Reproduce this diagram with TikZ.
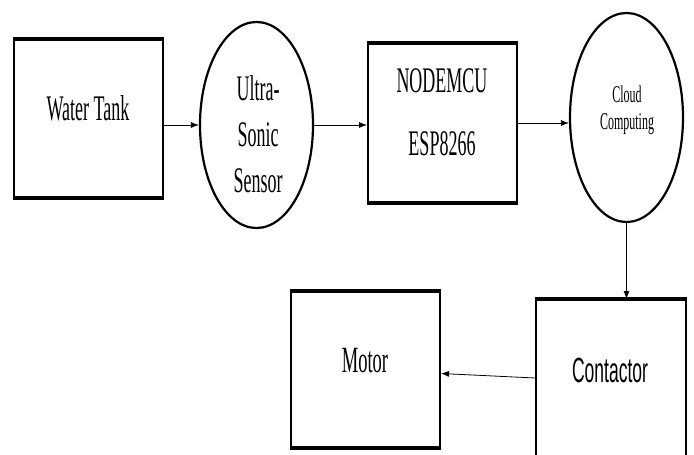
\documentclass[tikz,border=0pt]{standalone}
\usepackage{fontspec}
\newfontfamily\tallserif[FakeStretch=0.5]{Liberation Serif}
\newfontfamily\tallsans[FakeStretch=0.5]{Liberation Sans}
\usetikzlibrary{arrows.meta,shapes.geometric}

\tikzset{
  block/.style={draw,line width=2pt,minimum width=149pt,minimum height=157pt,inner sep=0pt},
  sensor/.style={draw,ellipse,line width=2.2pt,minimum width=113pt,minimum height=206pt,inner sep=0pt},
  link/.style={-{Latex[length=8pt,width=6pt]},line width=0.8pt},
  lbl/.style={inner sep=0pt,align=center,font=\tallserif\fontsize{36}{46}\selectfont}
}

\begin{document}
\begin{tikzpicture}[x=1pt,y=-1pt]
  \useasboundingbox (0,0) rectangle (694,455);

  % blocks
  \node[block] (tank) at (88.5,118.5) {};
  \node[sensor] (sensor) at (256.5,125) {};
  \node[block,minimum height=158pt] (mcu) at (442.5,123) {};
  \node[sensor,minimum height=209pt] (cloud) at (626.5,117.5) {};
  \node[block,minimum width=150pt,minimum height=200pt] (contactor) at (611,400) {};
  \node[block,minimum height=155pt] (motor) at (365.5,369.5) {};

  % heavy top and bottom edges
  \foreach \b in {tank,mcu,contactor,motor}
    \draw[line width=4pt] (\b.north west) -- (\b.north east) (\b.south west) -- (\b.south east);

  % texts
  \node[lbl,anchor=base] (tanktxt) at (88,120) {Water Tank};
  \node[lbl] (sensortxt) at (258,134) {Ultra-\\Sonic\\Sensor};
  \node[lbl,anchor=base] (mcutxt) at (442,92) {NODEMCU};
  \node[lbl,anchor=base] (esptxt) at (442,155) {ESP8266};
  \node[lbl,anchor=base,font=\tallserif\fontsize{24}{28}\selectfont] (cloudtxt) at (627,102) {Cloud};
  \node[lbl,anchor=base,font=\tallserif\fontsize{24}{28}\selectfont] (comptxt) at (627,129) {Computing};
  \node[lbl,anchor=base,font=\tallsans\fontsize{35}{40}\selectfont] (contxt) at (610,382) {Contactor};
  \node[lbl,anchor=base,font=\tallserif\fontsize{37}{40}\selectfont] (motortxt) at (365,372) {Motor};

  % connectors
  \draw[link] (tank.east |- sensor.west) -- (sensor.west);
  \draw[link] (sensor.east) -- (mcu.west |- sensor.east);
  \draw[link] (mcu.east) -- (cloud.west |- mcu.east);
  \draw[link] (cloud.south) -- (cloud.south |- contactor.north);
  \draw[link] ([yshift=22pt]contactor.west) -- ([yshift=-4pt]motor.east);
\end{tikzpicture}
\end{document}
